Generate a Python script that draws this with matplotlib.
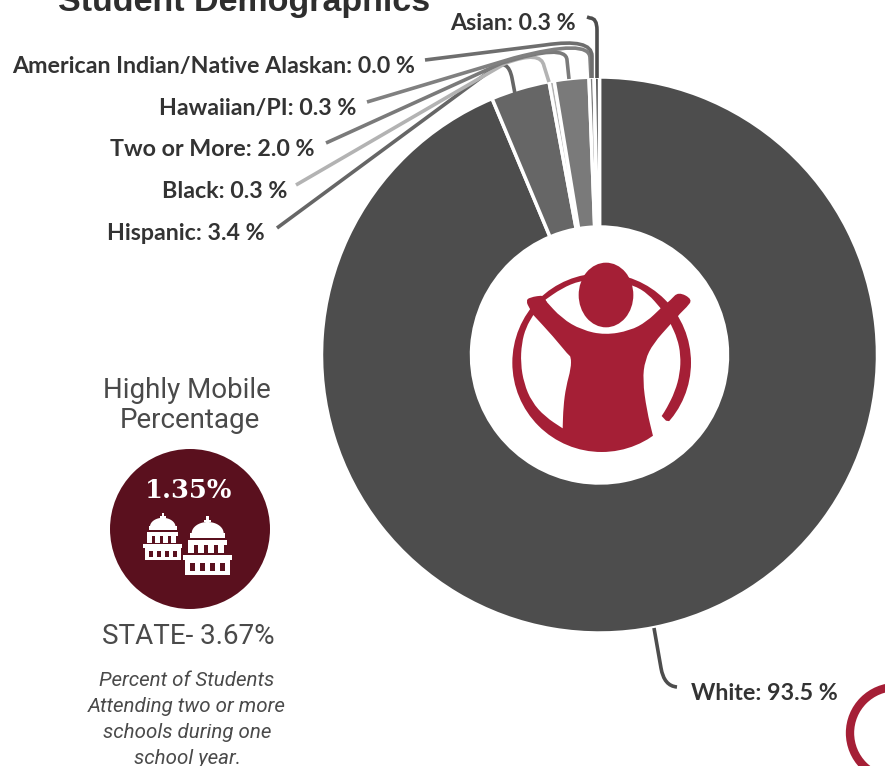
#!/usr/bin/env python3
import matplotlib
matplotlib.use('Agg')
import matplotlib.pyplot as plt
import numpy as np
from matplotlib.patches import Circle, Ellipse, PathPatch, Polygon, Rectangle
from matplotlib.path import Path

W, H = 885, 766

categories = ['White', 'Hispanic', 'Black', 'Two or More', 'Hawaiian/PI',
              'American Indian/Native Alaskan', 'Asian']
values = [93.5, 3.4, 0.3, 2.0, 0.3, 0.0, 0.3]
colors = ['#4d4d4d', '#666666', '#b3b3b3', '#7a7a7a', '#808080', '#6e6e6e', '#4d4d4d']

mobile_pct = '1.35%'
state_pct = 'STATE- 3.67%'
note_lines = ['Percent of Students', 'Attending two or more',
              'schools during one', 'school year.']

RED = '#a51f36'
MAROON = '#5a101e'
TEXT = '#333333'

# label right edge / centre y, in picture pixels
label_pos = {'White': (838, 694), 'Hispanic': (265, 234), 'Black': (287, 192),
             'Two or More': (315, 150), 'Hawaiian/PI': (356, 108),
             'American Indian/Native Alaskan': (415, 66), 'Asian': (576, 24)}

# start, end of straight run, corner control, end of corner, slice end
leaders = {'White': [(654, 628), (661, 668), (664, 686), (677, 687), (677, 687)],
           'Hispanic': [(277, 228), (494, 68), (508, 58), (512, 78), (516, 99)],
           'Black': [(296, 185), (506, 63), (541, 50), (544, 66), (549, 82)],
           'Two or More': [(326, 143), (502, 63), (566, 43), (567, 60), (569, 79)],
           'Hawaiian/PI': [(367, 102), (514, 58), (590, 38), (590, 58), (591, 78)],
           'American Indian/Native Alaskan': [(425, 60), (545, 45), (592, 38), (592, 56), (592, 78)],
           'Asian': [(587, 17), (590, 18), (597, 18), (597, 30), (597, 78)]}


def Y(y):
    return H - y


def draw_leader(ax, pts, color):
    verts = [(x, Y(y)) for x, y in pts]
    codes = [Path.MOVETO, Path.LINETO, Path.CURVE3, Path.CURVE3, Path.LINETO]
    ax.add_patch(PathPatch(Path(verts, codes), fc='none', ec=color, lw=2.6,
                           capstyle='butt', zorder=3))


def smooth_patch(points, color, z):
    # closed quadratic spline, a doubled point stays a sharp corner
    pts = np.array(points, dtype=float)
    n = len(pts)
    mids = (pts + np.roll(pts, -1, axis=0)) / 2
    verts = [tuple(mids[-1])]
    codes = [Path.MOVETO]
    for i in range(n):
        verts += [tuple(pts[i]), tuple(mids[i])]
        codes += [Path.CURVE3, Path.CURVE3]
    return PathPatch(Path(verts, codes), fc=color, ec='none', zorder=z)


def draw_logo(ax):
    # coordinates are in a 660 box laid over x 490-710, y 240-460
    def pt(x, y):
        return (490 + x / 3, Y(240 + y / 3))

    def shape(points, color, z):
        ax.add_patch(smooth_patch([pt(*p) for p in points], color, z))

    ax.add_patch(Circle(pt(335, 368), 268 / 3, fc=RED, ec='none', zorder=5))
    # holes between ring and figure
    shape([(165, 180), (165, 180), (215, 145), (270, 122), (345, 112), (430, 135), (475, 162),
           (512, 205), (512, 205), (470, 245), (420, 272), (345, 285), (275, 270), (215, 235)],
          'white', 6)
    shape([(130, 225), (130, 225), (190, 290), (235, 345), (243, 350), (243, 385), (228, 440),
           (220, 500), (218, 565), (218, 565), (165, 530), (125, 485), (102, 430), (92, 370),
           (95, 310), (108, 262)], 'white', 6)
    shape([(542, 252), (542, 252), (490, 310), (465, 360), (458, 420), (470, 510), (490, 592),
           (490, 592), (530, 640), (640, 560), (528, 542), (528, 542), (515, 528), (515, 528),
           (530, 505), (555, 455), (570, 400), (572, 345), (562, 295)], 'white', 6)
    ax.add_patch(Ellipse(pt(348, 165), 164 / 3, 194 / 3, fc=RED, ec='none', zorder=7))
    shape([(108, 183), (118, 172), (165, 165), (165, 180), (175, 190), (135, 228), (118, 205)], RED, 7)
    shape([(512, 205), (512, 205), (542, 180), (565, 155), (608, 178), (590, 202), (570, 220),
           (545, 252), (545, 252)], RED, 7)


def draw_capitol(ax, ox, oy, s):
    # drawn for the large one, box x 310-458, y 230-408 of a 3x crop at (80, 440)
    def px(x):
        return ox + (x - 310) * s / 3

    def py(y):
        return oy + (y - 230) * s / 3

    def rect(x0, y0, x1, y1, color='white', z=8):
        ax.add_patch(Rectangle((px(x0), Y(py(y1))), px(x1) - px(x0), py(y1) - py(y0),
                               fc=color, ec='none', zorder=z))

    rect(380, 230, 388, 255)
    rect(373, 241, 395, 249)
    t = np.linspace(0, np.pi, 30)
    dome = [(px(384 + 48 * np.cos(a)), Y(py(282 - 34 * np.sin(a)))) for a in t]
    ax.add_patch(Polygon(dome, closed=True, fc='white', ec='none', zorder=8))
    rect(332, 280, 437, 295)
    rect(325, 303, 443, 318)
    for x in (325, 355, 385, 415):
        rect(x, 318, x + 17, 342)
    rect(310, 348, 458, 362)
    rect(316, 362, 452, 408)
    for x in (332, 362, 392, 422):
        rect(x, 372, x + 15, 394, MAROON, 9)


fig = plt.figure(figsize=(W / 100, H / 100), dpi=100)
ax = fig.add_axes([0, 0, 1, 1])

ax.pie(values, colors=colors, radius=278, center=(599.5, Y(355)), startangle=90,
       counterclock=False, wedgeprops={'width': 150, 'edgecolor': 'white', 'linewidth': 2.5})
ax.set_xlim(0, W)
ax.set_ylim(0, H)
ax.set_aspect('equal')
ax.axis('off')

for cat, val, col in zip(categories, values, colors):
    draw_leader(ax, leaders[cat], col)
    x, y = label_pos[cat]
    ax.text(x, Y(y), '{}: {:.1f} %'.format(cat, val), ha='right', va='center',
            fontsize=16.75, fontweight='bold', family='Lato', color=TEXT)

ax.text(58, Y(11), 'Student Demographics', ha='left', va='baseline', fontsize=24.5,
        fontweight='bold', family='Liberation Sans', color='#2e2e2e')

draw_logo(ax)

# highly mobile block
ax.text(187, Y(390), 'Highly Mobile', ha='center', va='center', fontsize=20, family='Roboto', color='#4a4a4a')
ax.text(190, Y(421), 'Percentage', ha='center', va='center', fontsize=20, family='Roboto', color='#4a4a4a')
ax.add_patch(Circle((190, Y(529)), 80, fc=MAROON, ec='none', zorder=5))
ax.text(189, Y(491), mobile_pct, ha='center', va='center', fontsize=18.5, fontweight='bold',
        family='DejaVu Serif', color='white', zorder=8)
draw_capitol(ax, 183, 516, 1.0)
draw_capitol(ax, 143, 513, 0.8)
ax.text(188, Y(636), state_pct, ha='center', va='center', fontsize=20, family='Roboto', color='#4a4a4a')
for i, line in enumerate(note_lines):
    ax.text(187, Y(680 + i * 26), line, ha='center', va='center', fontsize=14.75, style='italic',
            family='Roboto', color='#4a4a4a')

# ring cut by the right edge
ax.add_patch(Circle((896, Y(733)), 46, fc='none', ec=RED, lw=6, zorder=4))

plt.savefig('out.png', dpi=100)
